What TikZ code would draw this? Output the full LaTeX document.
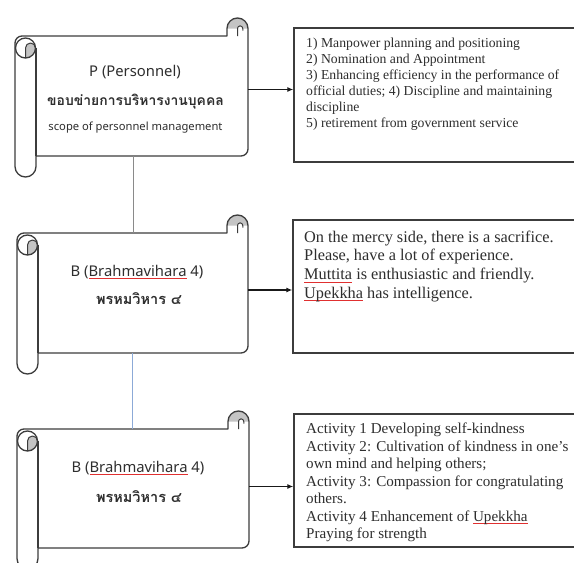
\documentclass[tikz,border=0pt]{standalone}
\usepackage{fontspec}
\setmainfont{Liberation Serif}[Ligatures=ResetAll]
\newfontfamily\scrollfont{Noto Sans}
\newfontfamily\thaifont[Script=Thai]{Loma}
\usetikzlibrary{arrows.meta,calc}
\definecolor{lineink}{HTML}{3C3C3C}
\definecolor{textink}{HTML}{2E2E2E}
\definecolor{rollgray}{HTML}{C4C4C4}
\definecolor{linkgray}{HTML}{8A8A8A}
\definecolor{linkblue}{HTML}{8CAAD7}
\definecolor{squig}{HTML}{E03030}
\newsavebox\redwordbox
\newcommand\redul[1]{\sbox\redwordbox{#1}\rlap{\textcolor{squig}{\rule[-2.8pt]{\wd\redwordbox}{0.6pt}}}\usebox\redwordbox}
\tikzset{
  scrollline/.style={draw=lineink, line width=1.3pt, line join=round},
  scrollbody/.style={inner sep=0pt, draw=none},
  tbox/.style={draw=lineink, line width=1.4pt, inner sep=0pt, fill=white},
  conn/.style={draw=black!90, line width=1.1pt, -{Latex[length=6pt,width=5pt]}},
  vlinkA/.style={draw=linkgray, line width=1pt},
  vlinkB/.style={draw=linkblue, line width=0.9pt},
  sctext/.style={inner sep=0pt, text=textink, font=\scrollfont\fontsize{14.8}{16}\selectfont},
  smalltext/.style={inner sep=0pt, text=textink, font=\scrollfont\fontsize{11.2}{13}\selectfont},
  thtext/.style={inner sep=0pt, text=textink, font=\thaifont\bfseries\fontsize{14.5}{17}\selectfont},
  thwide/.style={inner sep=0pt, text=textink, font=\thaifont\bfseries\fontsize{13.9}{16}\selectfont},
  lineA/.style={inner sep=0pt, anchor=base west, text=textink, font=\fontsize{13.7}{16}\selectfont},
  lineB/.style={inner sep=0pt, anchor=base west, text=textink, font=\fontsize{16.3}{18.7}\selectfont},
  lineC/.style={inner sep=0pt, anchor=base west, text=textink, font=\fontsize{15.1}{17.5}\selectfont},
}
% #1 name, #2 L, #3 R, #4 T, #5 B
\newcommand\drawscroll[5]{%
  \pgfmathsetmacro\sCy{#4-7.5}%
  \node[scrollbody, minimum width={(#3-#2-21)*1pt}, minimum height={(#5-#4)*1pt}] (#1) at ({(#2+21+#3)/2},{(#4+#5)/2}) {};
  \fill[white] (#2+21,#5) -- (#3-7,#5) arc[start angle=90,end angle=0,radius=7] -- (#3,\sCy) arc[start angle=0,end angle=-180,radius=10.5] -- (#3-21,#4) -- (#2+7,#4) arc[start angle=-90,end angle=-180,radius=7] -- (#2,#5+10.5) arc[start angle=180,end angle=0,radius=10.5] -- cycle;
  \fill[rollgray] (#3-21,\sCy) arc[start angle=180,end angle=360,radius=10.5] -- (#3-5.25,\sCy) arc[start angle=0,end angle=-180,radius=2.625] -- cycle;
  \fill[rollgray] (#2+10.5,#4+22) arc[start angle=90,end angle=0,radius=10] arc[start angle=0,end angle=-180,radius=5] -- cycle;
  \draw[scrollline] (#2+21,#5) -- (#3-7,#5) arc[start angle=90,end angle=0,radius=7] -- (#3,\sCy) arc[start angle=0,end angle=-180,radius=10.5] -- (#3-21,#4) -- (#2+7,#4) arc[start angle=-90,end angle=-180,radius=7] -- (#2,#5+10.5) arc[start angle=180,end angle=0,radius=10.5] -- cycle;
  \draw[scrollline] (#2+10.5,#4+12) circle[radius=10];
  \draw[scrollline, line width=1pt] (#2+20.5,#4+12) arc[start angle=0,end angle=-180,radius=5] -- (#2+10.5,#4+22);
  \draw[scrollline] (#2+21,#4+12) -- (#2+21,#5);
  \draw[scrollline, line width=1pt] (#3-10.5,#4) -- (#3-10.5,\sCy) arc[start angle=180,end angle=360,radius=2.625] -- (#3-5.25,\sCy+2);
}
\begin{document}
\begin{tikzpicture}[x=1pt, y=-1pt]
\useasboundingbox (0,0) rectangle (574,563);
\fill[white] (0,0) rectangle (574,563);
\clip (0,0) rectangle (574,563);

% right-hand boxes
\node[tbox, minimum width=306pt, minimum height=134pt] (b1) at (447,95) {};
\node[tbox, minimum width=307pt, minimum height=133pt] (b2) at (446.5,286.5) {};
\node[tbox, minimum width=306pt, minimum height=133pt] (b3) at (447,480.5) {};

% scrolls
\drawscroll{s1}{15}{248}{36}{156}
\drawscroll{s2}{17}{248}{233}{353}
\drawscroll{s3}{17}{249}{429}{548}

% vertical links
\draw[vlinkA] ([xshift=-9pt]s1.south) -- ([xshift=-9pt]s1.south |- s2.north);
\draw[vlinkB] ([xshift=-11pt]s2.south) -- ([xshift=-11pt]s2.south |- s3.north);

% arrows
\draw[conn] ([yshift=6.5pt]s1.east) -- ([yshift=6.5pt]s1.east -| b1.west);
\draw[conn] ([yshift=3pt]s2.east) -- ([yshift=3pt]s2.east -| b2.west);
\draw[conn] ([yshift=2pt]s3.east) -- ([yshift=2pt]s3.east -| b3.west);

% scroll texts
\node[sctext] (s1a) at (135,72) {P (Personnel)};
\node[thwide] (s1b) at (135.5,102) {ขอบข่ายการบริหารงานบุคคล};
\node[smalltext] (s1c) at (135.5,128) {scope of personnel management};
\node[sctext] (s2a) at (137,272) {B (\redul{Brahmavihara} 4)};
\node[thtext] (s2b) at (139,299) {พรหมวิหาร ๔};
\node[sctext] (s3a) at (138,468) {B (\redul{Brahmavihara} 4)};
\node[thtext] (s3b) at (139,497) {พรหมวิหาร ๔};

% box 1 text
\node[lineA] (t1a) at (306,47) {1) Manpower planning and positioning};
\node[lineA] (t1b) at (306,63) {2) Nomination and Appointment};
\node[lineA] (t1c) at (306,79) {3) Enhancing efficiency in the performance of};
\node[lineA] (t1d) at (306,95) {official duties; 4) Discipline and maintaining};
\node[lineA] (t1e) at (306,111) {discipline};
\node[lineA] (t1f) at (306,127) {5) retirement from government service};

% box 2 text
\node[lineB] (t2a) at (304,242) {On the mercy side, there is a sacrifice.};
\node[lineB] (t2b) at (304,260.7) {Please, have a lot of experience.};
\node[lineB] (t2c) at (304,279.4) {\redul{Muttita} is enthusiastic and friendly.};
\node[lineB] (t2d) at (304,298.1) {\redul{Upekkha} has intelligence.};

% box 3 text
\node[lineC] (t3a) at (306,433.5) {Activity 1 Developing self-kindness};
\node[lineC] (t3b) at (306,451) {Activity 2: Cultivation of kindness in one's};
\node[lineC] (t3c) at (306,468.5) {own mind and helping others;};
\node[lineC] (t3d) at (306,486) {Activity 3: Compassion for congratulating};
\node[lineC] (t3e) at (306,503.5) {others.};
\node[lineC] (t3f) at (306,521) {Activity 4 Enhancement of \redul{Upekkha}};
\node[lineC] (t3g) at (306,538.5) {Praying for strength};
\end{tikzpicture}
\end{document}
